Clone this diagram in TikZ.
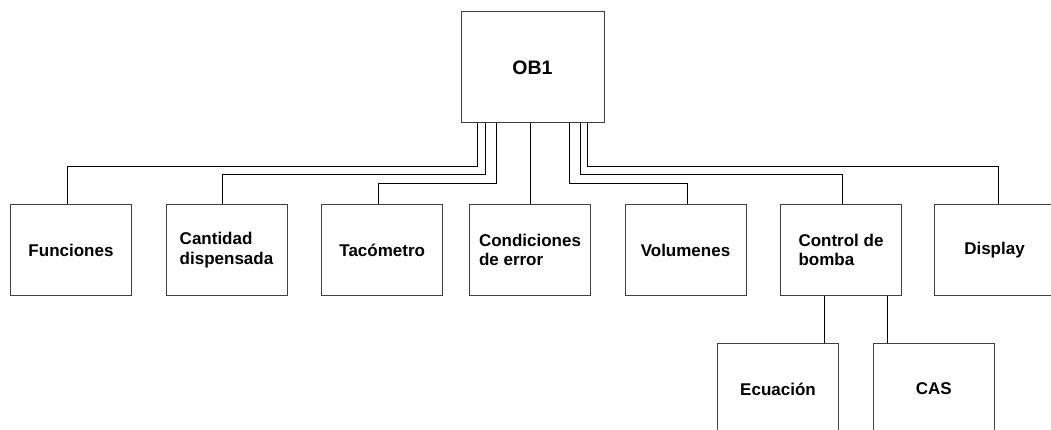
\documentclass[tikz,border=0pt]{standalone}
\usepackage{fontspec}
\setmainfont{Liberation Sans}
\begin{document}
\begin{tikzpicture}[x=1pt,y=-1pt,
  box/.style={draw=black!75, line width=1pt, minimum width=121pt, minimum height=91.5pt,
    inner sep=0pt, font=\fontsize{17}{19.5}\selectfont\bfseries, align=left},
  conn/.style={draw=black, line width=0.9pt}]
\useasboundingbox (0,0) rectangle (1051,430);
\clip (0,0) rectangle (1051,430);

\node[box, minimum width=143pt, minimum height=111pt,
      font=\fontsize{19.5}{23}\selectfont\bfseries] (ob1) at (532.5,67.5) {OB1};

\node[box] (fun)  at (71,250)    {Funciones};
\node[box] (cant) at (226.5,250) {Cantidad\\dispensada};
\node[box] (tac)  at (382.2,250) {Tacómetro};
\node[box] (cond) at (530,250)   {Condiciones\\de error};
\node[box] (vol)  at (685.5,250) {Volumenes};
\node[box] (ctrl) at (841,250)   {Control de\\bomba};
\node[box] (disp) at (994.5,250) {Display};

\node[box] (ecu) at (778,389)   {Ecuación};
\node[box] (cas) at (933.7,389) {CAS};

% connectors from OB1
\draw[conn] ([xshift=-55.5pt]ob1.south) -- ++(0,43)   -| ([xshift=-3.7pt]fun.north);
\draw[conn] ([xshift=-46.8pt]ob1.south) -- ++(0,51)   -| ([xshift=-3.8pt]cant.north);
\draw[conn] ([xshift=-35.8pt]ob1.south) -- ++(0,59.7) -| ([xshift=-3.9pt]tac.north);
\draw[conn] ([xshift=0.5pt]cond.north |- ob1.south) -- ([xshift=0.5pt]cond.north);
\draw[conn] ([xshift=36.8pt]ob1.south)  -- ++(0,59.7) -| ([xshift=1.8pt]vol.north);
\draw[conn] ([xshift=47.5pt]ob1.south)  -- ++(0,51)   -| ([xshift=1.3pt]ctrl.north);
\draw[conn] ([xshift=55.2pt]ob1.south)  -- ++(0,43)   -| ([xshift=3.5pt]disp.north);

% connectors from Control de bomba
\draw[conn] ([xshift=-16.3pt]ctrl.south) -- ([xshift=46.7pt]ecu.north);
\draw[conn] ([xshift=46.3pt]ctrl.south)  -- ([xshift=-46.4pt]cas.north);
\end{tikzpicture}
\end{document}
